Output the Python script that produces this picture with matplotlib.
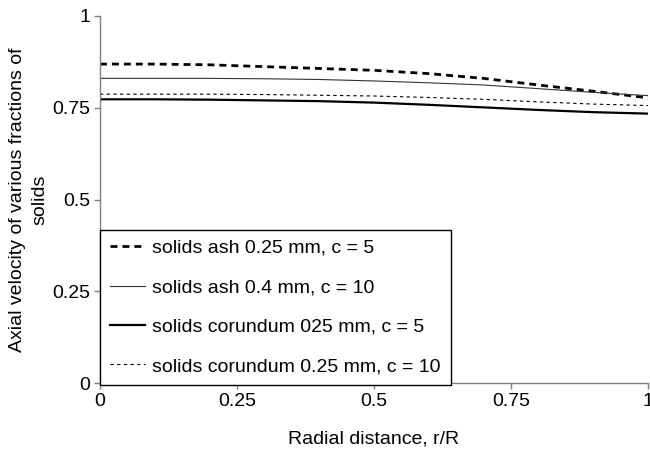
import matplotlib
matplotlib.use("Agg")
import matplotlib.pyplot as plt

plt.rcParams['font.family'] = ['Liberation Sans', 'DejaVu Sans']

# radial position r/R
r = [0.0, 0.1, 0.2, 0.3, 0.4, 0.5, 0.6, 0.7, 0.8, 0.9, 1.0]

# axial velocity of solids fractions
ash_025_c5 = [0.869, 0.869, 0.867, 0.862, 0.857, 0.852, 0.843, 0.830, 0.812, 0.795, 0.777]
ash_04_c10 = [0.830, 0.830, 0.830, 0.829, 0.827, 0.823, 0.818, 0.812, 0.802, 0.792, 0.783]
cor_025_c5 = [0.773, 0.773, 0.772, 0.770, 0.768, 0.764, 0.758, 0.751, 0.744, 0.738, 0.734]
cor_025_c10 = [0.787, 0.787, 0.787, 0.786, 0.784, 0.782, 0.778, 0.773, 0.766, 0.760, 0.756]

labels = ["solids ash 0.25 mm, c = 5",
          "solids ash 0.4 mm, c = 10",
          "solids corundum 025 mm, c = 5",
          "solids corundum 0.25 mm, c = 10"]

ticks = [0, 0.25, 0.5, 0.75, 1]
tick_labels = ["0", "0.25", "0.5", "0.75", "1"]

fs = 14

fig = plt.figure(figsize=(6.5, 4.58), dpi=100)
ax = fig.add_axes([100 / 650, 1 - 383 / 458, 548 / 650, 367 / 458])

ax.plot(r, ash_025_c5, color='black', lw=2, linestyle=(0, (2.5, 1.8)), label=labels[0])
ax.plot(r, ash_04_c10, color='#333333', lw=0.8, linestyle='-', label=labels[1])
ax.plot(r, cor_025_c5, color='black', lw=1.6, linestyle='-', label=labels[2])
ax.plot(r, cor_025_c10, color='black', lw=0.8, linestyle=(0, (3, 3)), label=labels[3])

ax.set_xlim(0, 1)
ax.set_ylim(0, 1)
ax.set_xticks(ticks)
ax.set_xticklabels(tick_labels)
ax.set_yticks(ticks)
ax.set_yticklabels(tick_labels)

for side in ['top', 'right']:
    ax.spines[side].set_visible(False)
for side in ['left', 'bottom']:
    ax.spines[side].set_color('#808080')
    ax.spines[side].set_linewidth(1)
ax.tick_params(direction='out', length=4, width=1, color='#808080',
               labelsize=fs, pad=3)

ax.set_xlabel("Radial distance, r/R", fontsize=fs, labelpad=15)
ax.set_ylabel("Axial velocity of various fractions of\nsolids", fontsize=fs,
              labelpad=3, linespacing=1.4)

leg = ax.legend(loc='lower left', bbox_to_anchor=(0, -0.005), borderaxespad=0,
                fontsize=fs, frameon=True, fancybox=False, framealpha=1,
                edgecolor='black', handlelength=1.8, handletextpad=0.4,
                labelspacing=1.12, borderpad=0.5)
leg.get_frame().set_linewidth(1)

fig.savefig("out.png", dpi=100)
